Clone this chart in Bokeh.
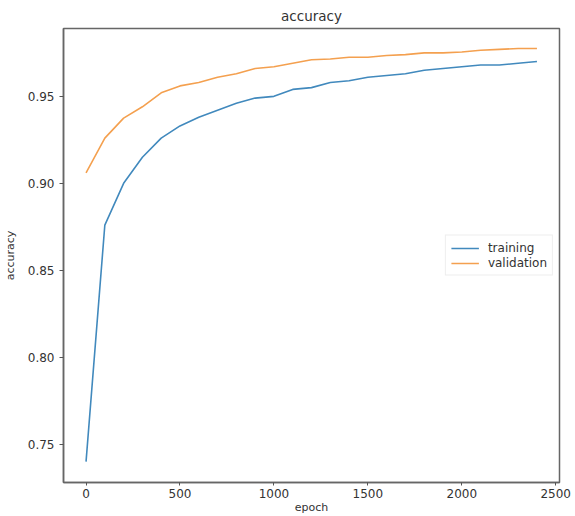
from bokeh.plotting import figure
from bokeh.models import Range1d, FixedTicker, PrintfTickFormatter, Legend, LegendItem
from bokeh.embed import file_html
from bokeh.resources import INLINE

epochs = [0, 100, 200, 300, 400, 500, 600, 700, 800, 900, 1000, 1100, 1200,
          1300, 1400, 1500, 1600, 1700, 1800, 1900, 2000, 2100, 2200, 2300, 2400]
training = [0.740, 0.876, 0.900, 0.915, 0.926, 0.933, 0.938, 0.942, 0.946, 0.949,
            0.950, 0.954, 0.955, 0.958, 0.959, 0.961, 0.962, 0.963, 0.965, 0.966,
            0.967, 0.968, 0.968, 0.969, 0.970]
validation = [0.906, 0.926, 0.9375, 0.944, 0.952, 0.956, 0.958, 0.961, 0.963, 0.966,
              0.967, 0.969, 0.971, 0.9715, 0.9725, 0.9725, 0.9735, 0.974, 0.975, 0.975,
              0.9755, 0.9765, 0.977, 0.9775, 0.9775]
x_ticks = [0, 500, 1000, 1500, 2000, 2500]
y_ticks = [0.75, 0.80, 0.85, 0.90, 0.95]

FONT = "DejaVu Sans"
TXT = "#333333"

p = figure(width=575, height=516, output_backend="svg", toolbar_location=None,
           x_range=Range1d(-120, 2520), y_range=Range1d(0.728, 0.989),
           title="accuracy", min_border_left=8, min_border_right=16,
           min_border_top=5, min_border_bottom=0)
p.title.align = "center"
p.title.text_font = FONT
p.title.text_font_size = "13.5px"
p.title.text_font_style = "normal"
p.title.text_color = TXT

l1 = p.line(epochs, training, line_color="#4189bd", line_width=1.6)
l2 = p.line(epochs, validation, line_color="#f4a04f", line_width=1.6)

p.xgrid.visible = False
p.ygrid.visible = False
p.outline_line_color = "#666666"
p.outline_line_width = 1.5

for ax in (p.xaxis[0], p.yaxis[0]):
    ax.axis_line_color = "#666666"
    ax.axis_line_width = 1.5
    ax.major_tick_line_color = "#555555"
    ax.major_tick_out = 4
    ax.major_tick_in = 0
    ax.minor_tick_line_color = None
    ax.major_label_text_font = FONT
    ax.major_label_text_font_size = "12px"
    ax.major_label_text_color = TXT
    ax.axis_label_text_font = FONT
    ax.axis_label_text_font_size = "11px"
    ax.axis_label_text_font_style = "normal"
    ax.axis_label_text_color = TXT

p.xaxis.ticker = FixedTicker(ticks=x_ticks)
p.yaxis.ticker = FixedTicker(ticks=y_ticks)
p.yaxis.formatter = PrintfTickFormatter(format="%.2f")
p.xaxis.axis_label = "epoch"
p.yaxis.axis_label = "accuracy"
p.xaxis.major_tick_out = 3
p.xaxis.major_label_standoff = 3
p.xaxis.axis_label_standoff = 0
p.yaxis.axis_label_standoff = 8

legend = Legend(items=[LegendItem(label="training", renderers=[l1]),
                       LegendItem(label="validation", renderers=[l2])],
                location="center_right")
legend.label_text_font = FONT
legend.label_text_font_size = "12px"
legend.label_text_color = TXT
legend.border_line_color = "#dddddd"
legend.glyph_width = 28
legend.glyph_height = 13
legend.label_height = 13
legend.spacing = 1
legend.padding = 5
legend.margin = 6
legend.label_standoff = 9
p.add_layout(legend)

open("out.html", "w").write(file_html(p, INLINE))
